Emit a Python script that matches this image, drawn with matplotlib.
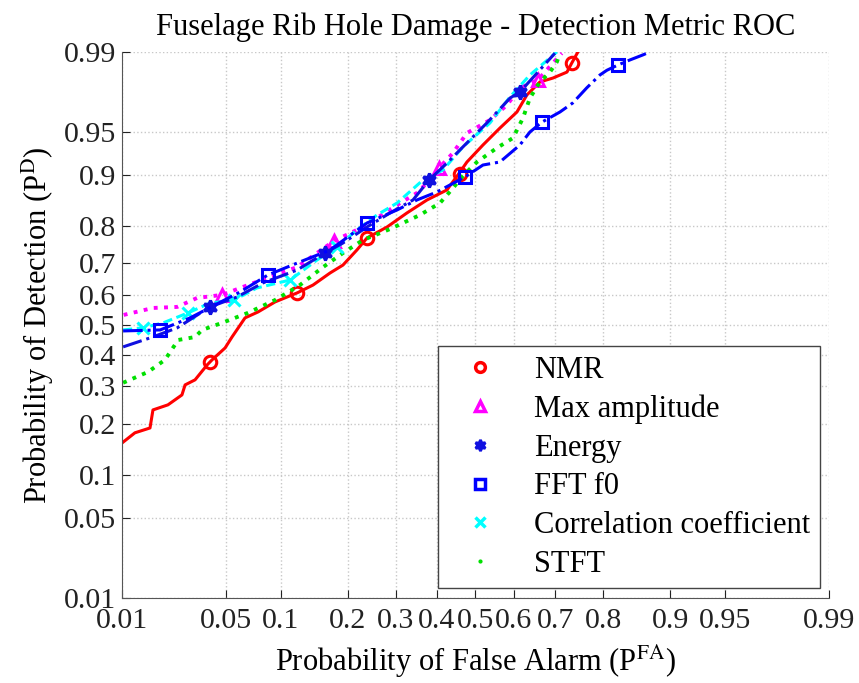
import numpy as np
import matplotlib
matplotlib.use('Agg')
import matplotlib.pyplot as plt
from matplotlib.lines import Line2D
from statistics import NormalDist

_nd = NormalDist()

# ---- data (probabilities) ----
nmr_fa = [0.0102, 0.0125, 0.0161, 0.0169, 0.0215, 0.0267, 0.028, 0.0325, 0.0387, 0.0415,
          0.0497, 0.0546, 0.0647, 0.0762, 0.0936, 0.1202, 0.1425, 0.1693, 0.1916, 0.2177,
          0.2377, 0.2803, 0.326, 0.3749, 0.4256, 0.4594, 0.4777, 0.5197, 0.564, 0.6076,
          0.6326, 0.6644, 0.695, 0.7265, 0.737, 0.750]
nmr_d = [0.159, 0.179, 0.190, 0.2345, 0.248, 0.2755, 0.3047, 0.320, 0.3666, 0.383,
         0.4223, 0.4594, 0.524, 0.544, 0.5777, 0.6075, 0.633, 0.671, 0.695, 0.7386,
         0.7707, 0.798, 0.830, 0.8565, 0.875, 0.9037, 0.9175, 0.9374, 0.9533, 0.9652,
         0.975, 0.9808, 0.9823, 0.9844, 0.9872, 0.990]
nmr_mk_fa = [0.0403, 0.1202, 0.2377, 0.4594, 0.737]
nmr_mk_d = [0.376, 0.6075, 0.7707, 0.9008, 0.9872]

amp_fa = [0.0103, 0.0169, 0.0248, 0.0335, 0.0477, 0.063, 0.085, 0.1202, 0.1485, 0.176,
          0.2177, 0.2585, 0.303, 0.350, 0.3824, 0.4052, 0.441, 0.4777, 0.538, 0.582,
          0.615, 0.6595, 0.715]
amp_d = [0.534, 0.5575, 0.561, 0.591, 0.601, 0.627, 0.6555, 0.689, 0.730, 0.763,
         0.791, 0.819, 0.8466, 0.8696, 0.8916, 0.9094, 0.9285, 0.949, 0.9596, 0.9695,
         0.9783, 0.9816, 0.9897]
amp_mk_fa = [0.0477, 0.176, 0.4052, 0.6595]
amp_mk_d = [0.601, 0.763, 0.9094, 0.9816]

energy_fa = [0.0102, 0.0169, 0.0248, 0.0403, 0.0583, 0.081, 0.1202, 0.161, 0.1916, 0.2377,
             0.2869, 0.3405, 0.380, 0.4256, 0.467, 0.530, 0.590, 0.615, 0.6995]
energy_d = [0.4258, 0.4594, 0.490, 0.561, 0.594, 0.640, 0.680, 0.730, 0.7575, 0.798,
            0.830, 0.8565, 0.8916, 0.916, 0.9353, 0.9574, 0.9734, 0.9764, 0.9897]
energy_mk_fa = [0.0403, 0.161, 0.380, 0.615]
energy_mk_d = [0.561, 0.730, 0.8916, 0.9764]

fft_fa = [0.0102, 0.019, 0.0302, 0.0433, 0.0607, 0.0861, 0.124, 0.1693, 0.2377, 0.303,
          0.350, 0.400, 0.4725, 0.5197, 0.564, 0.615, 0.640, 0.669, 0.711, 0.739,
          0.768, 0.7936, 0.8065, 0.8257, 0.845, 0.8648, 0.8745]
fft_d = [0.4796, 0.483, 0.524, 0.5677, 0.6107, 0.665, 0.7043, 0.7386, 0.8075, 0.8364,
         0.8565, 0.8714, 0.8963, 0.9135, 0.9175, 0.9374, 0.9499, 0.958, 0.9652, 0.9707,
         0.9783, 0.9834, 0.985, 0.9866, 0.988, 0.9893, 0.990]
fft_mk_fa = [0.019, 0.0861, 0.2377, 0.4725, 0.669, 0.8257]
fft_mk_d = [0.483, 0.665, 0.8075, 0.8963, 0.958, 0.9866]

corr_fa = [0.0102, 0.0143, 0.0199, 0.0293, 0.0403, 0.056, 0.0752, 0.1112, 0.1485, 0.1811,
           0.2177, 0.2585, 0.303, 0.365, 0.4153, 0.467, 0.538, 0.590, 0.640, 0.704]
corr_d = [0.483, 0.490, 0.507, 0.541, 0.574, 0.584, 0.6237, 0.649, 0.710, 0.7467,
          0.791, 0.8256, 0.8506, 0.8916, 0.9066, 0.9353, 0.9574, 0.974, 0.9834, 0.990]
corr_mk_fa = [0.0143, 0.0293, 0.056, 0.1112, 0.1811]
corr_mk_d = [0.490, 0.541, 0.584, 0.649, 0.7467]

stft_fa = [0.0102, 0.0156, 0.0205, 0.0252, 0.0325, 0.036, 0.0477, 0.0672, 0.0936, 0.124,
           0.158, 0.1916, 0.2297, 0.2869, 0.3575, 0.4077, 0.441, 0.467, 0.504, 0.556,
           0.5975, 0.6227, 0.640, 0.6644, 0.688, 0.704, 0.711]
stft_d = [0.311, 0.3445, 0.383, 0.449, 0.459, 0.483, 0.507, 0.541, 0.584, 0.633,
          0.689, 0.730, 0.7654, 0.793, 0.8256, 0.8506, 0.878, 0.898, 0.9175, 0.9342,
          0.9444, 0.961, 0.9734, 0.9808, 0.9844, 0.9875, 0.9897]

ticks = [0.01, 0.05, 0.1, 0.2, 0.3, 0.4, 0.5, 0.6, 0.7, 0.8, 0.9, 0.95, 0.99]
tick_labels = ['0.01', '0.05', '0.1', '0.2', '0.3', '0.4', '0.5', '0.6', '0.7', '0.8',
               '0.9', '0.95', '0.99']


def probit(p):
    p = np.clip(np.asarray(p, dtype=float), 1e-9, 1 - 1e-9)
    return np.vectorize(_nd.inv_cdf, otypes=[float])(p)


def inv_probit(z):
    return np.vectorize(_nd.cdf, otypes=[float])(np.asarray(z, dtype=float))


plt.rcParams['font.family'] = ['Liberation Serif', 'DejaVu Serif']
plt.rcParams['mathtext.fontset'] = 'stix'

fig = plt.figure(figsize=(8.59, 6.83), dpi=100)
ax = fig.add_axes([0.142, 0.1245, 0.823, 0.7995])
ax.set_xscale('function', functions=(probit, inv_probit))
ax.set_yscale('function', functions=(probit, inv_probit))

lw = 2.2
ms = 9
mew = 2.2
ax.plot(nmr_fa, nmr_d, '-', color='red', linewidth=lw)
ax.plot(nmr_mk_fa, nmr_mk_d, 'o', color='red', mfc='none', ms=ms, mew=mew)
ax.plot(amp_fa, amp_d, ':', color='magenta', linewidth=lw + 0.6)
ax.plot(amp_mk_fa, amp_mk_d, '^', color='magenta', mfc='none', ms=ms, mew=mew)
ax.plot(stft_fa, stft_d, ':', color='#00e000', linewidth=lw + 0.6)
ax.plot(corr_fa, corr_d, '--', color='cyan', linewidth=lw, dashes=(3, 1.5))
ax.plot(corr_mk_fa, corr_mk_d, 'x', color='cyan', ms=ms - 1, mew=mew)
ax.plot(energy_fa, energy_d, '-.', color='#1010e0', linewidth=lw)
ax.plot(energy_mk_fa, energy_mk_d, linestyle='none', marker=(6, 1, 0), color='#1010e0',
        ms=ms + 1, mew=mew)
ax.plot(fft_fa, fft_d, '-.', color='blue', linewidth=lw)
ax.plot(fft_mk_fa, fft_mk_d, 's', color='blue', mfc='none', ms=ms - 0.5, mew=mew)

ax.set_xlim(0.01, 0.99)
ax.set_ylim(0.01, 0.99)
ax.set_xticks(ticks)
ax.set_xticklabels(tick_labels)
ax.set_yticks(ticks)
ax.set_yticklabels(tick_labels)
ax.minorticks_off()
ax.tick_params(direction='in', length=6, labelsize=21.5, colors='#222222')
ax.tick_params(axis='x', pad=7)
ax.tick_params(axis='y', pad=4)
ax.grid(True, linestyle=':', color='#c8c8c8', linewidth=1.0)
for side in ['top', 'right']:
    ax.spines[side].set_visible(False)
for side in ['left', 'bottom']:
    ax.spines[side].set_color('#555555')

ax.set_title('Fuselage Rib Hole Damage - Detection Metric ROC', fontsize=22, pad=12)
ax.set_xlabel(r'Probability of False Alarm (P$^{\mathrm{FA}}$)', fontsize=22, labelpad=6)
ax.set_ylabel(r'Probability of Detection (P$^{\mathrm{D}}$)', fontsize=22, labelpad=6)

handles = [
    Line2D([], [], linestyle='none', marker='o', color='red', mfc='none', ms=7, mew=2.5),
    Line2D([], [], linestyle='none', marker='^', color='magenta', mfc='none', ms=7, mew=2.5),
    Line2D([], [], linestyle='none', marker=(6, 1, 0), color='#1010e0', ms=8, mew=2),
    Line2D([], [], linestyle='none', marker='s', color='blue', mfc='none', ms=7, mew=2.5),
    Line2D([], [], linestyle='none', marker='x', color='cyan', ms=7, mew=2.5),
    Line2D([], [], linestyle='none', marker='.', color='#00e000', ms=4),
]
labels = ['NMR', 'Max amplitude', 'Energy', 'FFT f0', 'Correlation coefficient', 'STFT']
leg = ax.legend(handles, labels, loc='lower right', bbox_to_anchor=(0.987, 0.018),
                borderaxespad=0, fontsize=22, fancybox=False, framealpha=1,
                edgecolor='#444444', labelspacing=0.32, handletextpad=0.7,
                borderpad=0.3, handlelength=2.15)
leg.get_frame().set_linewidth(1.0)

fig.savefig('out.png', dpi=100)
